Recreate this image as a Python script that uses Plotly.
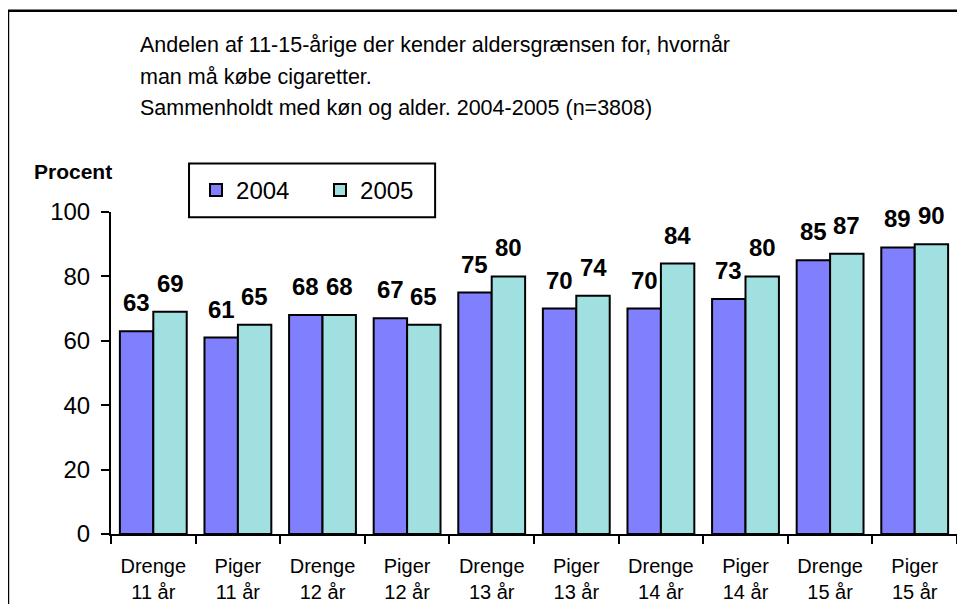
import plotly.graph_objects as go

categories = ["Drenge<br>11 år", "Piger<br>11 år", "Drenge<br>12 år", "Piger<br>12 år",
              "Drenge<br>13 år", "Piger<br>13 år", "Drenge<br>14 år", "Piger<br>14 år",
              "Drenge<br>15 år", "Piger<br>15 år"]
values_2004 = [63, 61, 68, 67, 75, 70, 70, 73, 85, 89]
values_2005 = [69, 65, 68, 65, 80, 74, 84, 80, 87, 90]
series_names = ["2004", "2005"]
y_ticks = [0, 20, 40, 60, 80, 100]
title_lines = ["Andelen af 11-15-årige der kender aldersgrænsen for, hvornår",
               "man må købe cigaretter.",
               "Sammenholdt med køn og alder. 2004-2005 (n=3808)"]
y_axis_label = "Procent"

W, H = 965, 604
OFF = 8  # page body margin offset
# target screen positions of the plot area
SX0, SX1, SY0, SY1 = 111, 956.7, 211.7, 534.5
L = SX0 - OFF
R = W - (SX1 - OFF)
T = SY0 - OFF
B = H - (SY1 - OFF)
PW, PH = W - L - R, H - T - B
FONT = "Arial, Liberation Sans, sans-serif"
BARGAP = 0.21


def px_x(x):
    return (x - SX0) / PW


def px_y(y):
    return (SY1 - y) / PH


colors = ["#8080FF", "#A0E0E0"]

fig = go.Figure()
for name, vals, col in zip(series_names, [values_2004, values_2005], colors):
    fig.add_trace(go.Bar(
        x=categories, y=vals, name=name,
        marker=dict(color=col, line=dict(color="black", width=2)),
    ))

# data labels
group_w = PW / len(categories)
bar_w = group_w * (1 - BARGAP) / 2
annotations = []
for si, vals in enumerate([values_2004, values_2005]):
    shift = -bar_w / 2 if si == 0 else bar_w / 2
    for c, v in zip(categories, vals):
        annotations.append(dict(
            x=c, y=v, xref="x", yref="y", text=f"<b>{v}</b>", showarrow=False,
            xshift=shift, yshift=28.5, yanchor="middle", xanchor="center",
            font=dict(family=FONT, size=24, color="black"),
        ))

# title lines
for line, ypix in zip(title_lines, [44, 76, 107]):
    annotations.append(dict(
        x=px_x(138), y=px_y(ypix), xref="paper", yref="paper", text=line,
        showarrow=False, xanchor="left", yanchor="middle", align="left",
        font=dict(family=FONT, size=21.5, color="black"),
    ))

annotations.append(dict(
    x=px_x(73), y=px_y(171), xref="paper", yref="paper", text=f"<b>{y_axis_label}</b>",
    showarrow=False, xanchor="center", yanchor="middle",
    font=dict(family=FONT, size=21, color="black"),
))

fig.update_layout(
    width=W, height=H,
    margin=dict(l=L, r=R, t=T, b=B, pad=0, autoexpand=False),
    plot_bgcolor="white", paper_bgcolor="white",
    barmode="group", bargap=BARGAP, bargroupgap=0,
    font=dict(family=FONT, color="black"),
    annotations=annotations,
    showlegend=True,
    legend=dict(
        orientation="h", x=px_x(196), y=px_y(190), xanchor="left", yanchor="middle",
        borderwidth=0, bgcolor="rgba(0,0,0,0)",
        font=dict(family=FONT, size=24, color="black"),
        entrywidth=79, itemsizing="constant",
    ),
    shapes=[
        dict(type="rect", xref="paper", yref="paper",
             x0=px_x(8), y0=px_y(10), x1=px_x(1010), y1=px_y(680),
             line=dict(color="black", width=2.5), fillcolor="rgba(0,0,0,0)"),
        dict(type="rect", xref="paper", yref="paper", layer="below",
             x0=px_x(189), y0=px_y(217), x1=px_x(435), y1=px_y(163),
             line=dict(color="black", width=2), fillcolor="white"),
    ],
    xaxis=dict(
        showline=True, linecolor="black", linewidth=2, ticks="outside",
        tickson="boundaries", ticklen=8, tickwidth=2, tickcolor="black",
        showgrid=False, tickfont=dict(family=FONT, size=20, color="black"),
        ticklabelstandoff=13, automargin=False,
    ),
    yaxis=dict(
        range=[0, 100], tickvals=y_ticks, showline=True, linecolor="black",
        linewidth=2, ticks="outside", ticklen=8, tickwidth=2, tickcolor="black",
        showgrid=False, zeroline=False, ticklabelstandoff=6, automargin=False,
        tickfont=dict(family=FONT, size=24, color="black"),
    ),
)

fig.write_html("out.html")
